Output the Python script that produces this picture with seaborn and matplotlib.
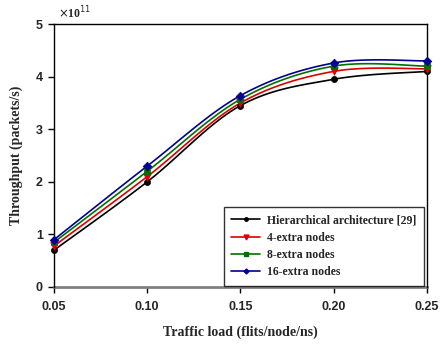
import numpy as np
import pandas as pd
import matplotlib
matplotlib.use("Agg")
import matplotlib.pyplot as plt
import seaborn as sns

traffic = [0.05, 0.10, 0.15, 0.20, 0.25]
hier = [0.70, 2.00, 3.45, 3.95, 4.10]
extra4 = [0.78, 2.10, 3.50, 4.10, 4.15]
extra8 = [0.85, 2.20, 3.57, 4.20, 4.20]
extra16 = [0.90, 2.30, 3.64, 4.26, 4.30]
series_names = ["Hierarchical architecture [29]", "4-extra nodes", "8-extra nodes", "16-extra nodes"]
colors = ["#000000", "#dd0000", "#007000", "#000090"]
markers = ["o", "v", "s", "D"]
msizes = [4, 5, 4, 4]

sns.set_style("ticks")
plt.rcParams['font.family'] = ['Liberation Serif', 'DejaVu Serif']

def smooth(xs, ys, n=30):
    # Excel-style smoothed line (cubic Bezier with Catmull-Rom tangents)
    xs = np.asarray(xs, float); ys = np.asarray(ys, float)
    P = np.column_stack([xs, ys])
    out = []
    for i in range(len(P) - 1):
        p0 = P[i - 1] if i > 0 else P[i]
        p1 = P[i]; p2 = P[i + 1]
        p3 = P[i + 2] if i + 2 < len(P) else P[i + 1]
        c1 = p1 + (p2 - p0) / 6.0
        c2 = p2 - (p3 - p1) / 6.0
        t = np.linspace(0, 1, n)[:, None]
        seg = (1 - t) ** 3 * p1 + 3 * (1 - t) ** 2 * t * c1 + 3 * (1 - t) * t ** 2 * c2 + t ** 3 * p2
        out.append(seg if i == 0 else seg[1:])
    seg = np.vstack(out)
    return seg[:, 0], seg[:, 1]

fig = plt.figure(figsize=(4.41, 3.44), dpi=100)
ax = fig.add_axes([0.1224, 0.1657, 0.8456, 0.7643])

all_series = [hier, extra4, extra8, extra16]
handles = []
for name, ys, c, m, ms in zip(series_names, all_series, colors, markers, msizes):
    sx, sy = smooth(traffic, ys)
    sns.lineplot(x=sx, y=sy, ax=ax, color=c, lw=1.2, sort=False, estimator=None)
    df = pd.DataFrame({"x": traffic, "y": ys})
    sns.scatterplot(data=df, x="x", y="y", ax=ax, color=c, marker=m, s=ms ** 2 * 1.2,
                    edgecolor=c, linewidth=0.5, zorder=5, clip_on=False)
    handles.append(plt.Line2D([], [], color=c, marker=m, markersize=ms - 1.5, lw=1.2))

ax.set_xlim(0.05, 0.25)
ax.set_ylim(0, 5)
ax.set_xticks(traffic)
ax.set_xticklabels(["0.05", "0.10", "0.15", "0.20", "0.25"])
ax.set_yticks([0, 1, 2, 3, 4, 5])
for lab in ax.get_xticklabels() + ax.get_yticklabels():
    lab.set_family(['Liberation Sans', 'DejaVu Sans'])
    lab.set_fontweight('bold')
    lab.set_fontsize(9)
ax.tick_params(axis='both', direction='out', length=4, width=1, color='#000000', pad=4,
               bottom=True, left=True)
ax.tick_params(axis='x', pad=6)

for s in ['top', 'right', 'left']:
    ax.spines[s].set_visible(True)
    ax.spines[s].set_color('black')
    ax.spines[s].set_linewidth(1.0)
ax.spines['bottom'].set_color('#808080')
ax.spines['bottom'].set_linewidth(2.0)
ax.spines['bottom'].set_zorder(1)

ax.set_xlabel("Traffic load (flits/node/ns)", fontsize=10, fontweight='bold', labelpad=9)
ax.set_ylabel("Throughput (packets/s)", fontsize=10, fontweight='bold', labelpad=9)
ax.text(0.01, 1.012, r"$\times$10$^{11}$", transform=ax.transAxes, fontsize=8.5,
        fontweight='bold', ha='left', va='bottom')

leg = ax.legend(handles, series_names, loc='lower right', bbox_to_anchor=(0.992, 0.004),
                frameon=True, fancybox=False, edgecolor='black',
                prop={'family': 'Liberation Serif', 'weight': 'bold', 'size': 8.5},
                handlelength=2.4, borderpad=0.65, labelspacing=0.45, handletextpad=0.6,
                borderaxespad=0.0)
leg.get_frame().set_linewidth(1.0)
leg.set_zorder(10)

fig.savefig("out.png", dpi=100)
